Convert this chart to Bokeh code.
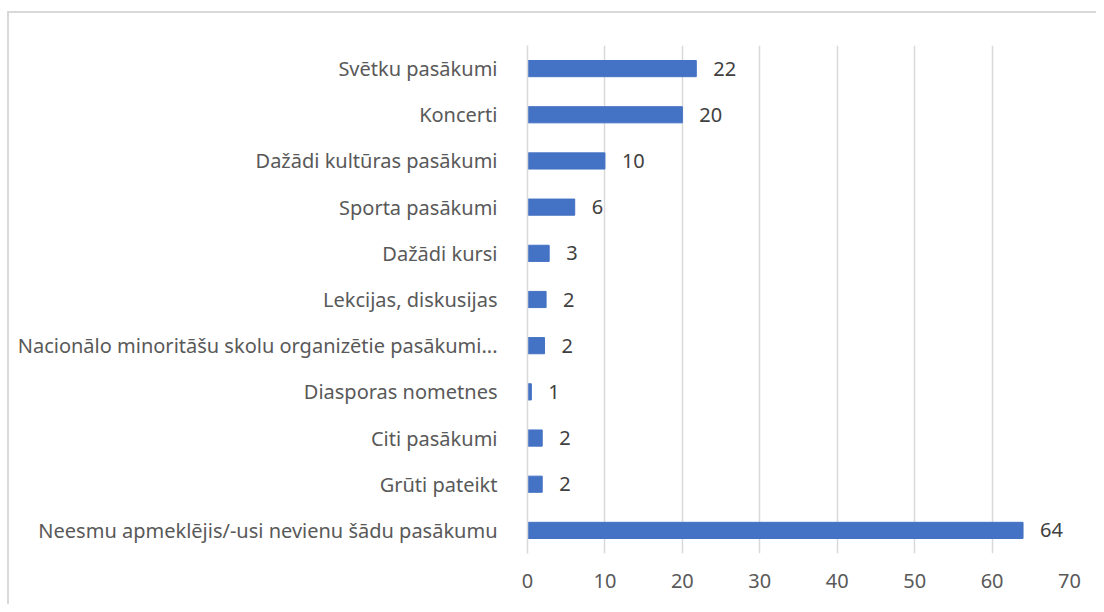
from bokeh.plotting import figure
from bokeh.models import ColumnDataSource, FactorRange, Range1d, LabelSet, FixedTicker
from bokeh.core.properties import value
from bokeh.embed import file_html
from bokeh.resources import INLINE

categories = [
    "Svētku pasākumi",
    "Koncerti",
    "Dažādi kultūras pasākumi",
    "Sporta pasākumi",
    "Dažādi kursi",
    "Lekcijas, diskusijas",
    "Nacionālo minoritāšu skolu organizētie pasākumi...",
    "Diasporas nometnes",
    "Citi pasākumi",
    "Grūti pateikt",
    "Neesmu apmeklējis/-usi nevienu šādu pasākumu",
]
values = [21.8, 20.0, 10.0, 6.1, 2.8, 2.4, 2.2, 0.5, 1.9, 1.9, 64.0]
value_labels = ["22", "20", "10", "6", "3", "2", "2", "1", "2", "2", "64"]
x_ticks = [0, 10, 20, 30, 40, 50, 60, 70]

FONT = "Noto Sans"
FS = "20px"

src = ColumnDataSource(dict(cat=categories, val=values, lab=value_labels))

p = figure(
    width=1089, height=593,
    y_range=FactorRange(factors=list(reversed(categories)), range_padding=0),
    x_range=Range1d(0, 70),
    output_backend="svg", toolbar_location=None,
    min_border_left=518, min_border_right=29, min_border_top=32, min_border_bottom=53,
)
p.styles = {"border-left": "2px solid #d9d9d9", "border-top": "2px solid #d9d9d9",
            "margin-top": "11px", "margin-left": "7px"}

p.hbar(y="cat", right="val", left=0, height=0.35, source=src,
       fill_color="#4472C4", line_color="#4472C4")

labels = LabelSet(x="val", y="cat", text="lab", source=src, x_offset=17,
                  text_baseline="middle", text_align="left",
                  text_font_size=FS, text_color="#404040", text_font=value(FONT))
p.add_layout(labels)

p.outline_line_color = None
p.background_fill_color = "white"
p.border_fill_color = "white"

p.xaxis.ticker = FixedTicker(ticks=x_ticks)
p.xaxis.axis_line_color = None
p.xaxis.major_tick_line_color = None
p.xaxis.minor_tick_line_color = None
p.xaxis.major_label_text_font_size = FS
p.xaxis.major_label_text_color = "#595959"
p.xaxis.major_label_text_font = FONT
p.xaxis.major_label_standoff = 14

p.yaxis.axis_line_color = "#d9d9d9"
p.yaxis.axis_line_width = 1.5
p.yaxis.major_tick_line_color = None
p.yaxis.minor_tick_line_color = None
p.yaxis.major_label_text_font_size = FS
p.yaxis.major_label_text_color = "#595959"
p.yaxis.major_label_text_font = FONT
p.yaxis.major_label_standoff = 24

p.xgrid.grid_line_color = "#d9d9d9"
p.xgrid.grid_line_width = 1.5
p.ygrid.grid_line_color = None

open("out.html", "w").write(file_html(p, INLINE))
